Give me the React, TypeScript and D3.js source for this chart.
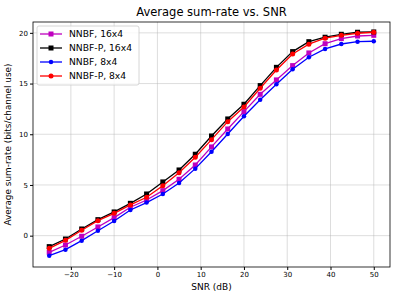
import React, { useEffect, useRef } from "react";
import * as d3 from "d3";

const snr = [-25, -21.25, -17.5, -13.75, -10, -6.25, -2.5, 1.25, 5, 8.75, 12.5, 16.25, 20, 23.75, 27.5, 31.25, 35, 38.75, 42.5, 46.25, 50];

const nnbf16 = [-1.64, -0.92, -0.06, 0.86, 1.78, 2.8, 3.52, 4.44, 5.56, 6.97, 8.75, 10.52, 12.23, 13.94, 15.36, 16.77, 18.02, 18.93, 19.43, 19.69, 19.76];
const nnbfp16 = [-1.08, -0.33, 0.66, 1.58, 2.34, 3.19, 4.11, 5.3, 6.48, 8.03, 9.83, 11.51, 12.96, 14.8, 16.6, 18.15, 19.13, 19.57, 19.86, 20.06, 20.09];
const nnbf8 = [-1.97, -1.38, -0.49, 0.49, 1.45, 2.53, 3.26, 4.11, 5.2, 6.61, 8.28, 10.03, 11.78, 13.41, 14.93, 16.41, 17.59, 18.41, 18.9, 19.13, 19.17];
const nnbfp8 = [-1.25, -0.46, 0.53, 1.48, 2.2, 3.03, 3.79, 4.93, 6.21, 7.73, 9.47, 11.24, 12.69, 14.54, 16.34, 17.92, 18.88, 19.47, 19.76, 19.96, 20.06];

const xTicks = [-20, -10, 0, 10, 20, 30, 40, 50];
const yTicks = [0, 5, 10, 15, 20];

const series = [
  { label: "NNBF, 16x4", values: nnbf16, color: "#bf00bf", marker: "square", size: 5 },
  { label: "NNBF-P, 16x4", values: nnbfp16, color: "#000000", marker: "square", size: 5 },
  { label: "NNBF, 8x4", values: nnbf8, color: "#0000ff", marker: "circle", size: 4.5 },
  { label: "NNBF-P, 8x4", values: nnbfp8, color: "#ff0000", marker: "circle", size: 5 },
];

function App() {
  const svgRef = useRef<SVGSVGElement>(null);

  useEffect(() => {
    if (!svgRef.current) return;
    const width = 399;
    const height = 299;
    const left = 33;
    const right = 390;
    const top = 22;
    const bottom = 267;
    const font = "DejaVu Sans, sans-serif";

    const svg = d3.select(svgRef.current);
    svg.selectAll("*").remove();
    svg.attr("width", width).attr("height", height);

    svg.append("rect").attr("width", width).attr("height", height).attr("fill", "white");

    const x = d3.scaleLinear().domain([-28.75, 53.75]).range([left, right]);
    const y = d3.scaleLinear().domain([-3.09, 21.07]).range([bottom, top]);

    // grid
    const grid = svg.append("g").attr("stroke", "#b0b0b0").attr("stroke-opacity", 0.55).attr("stroke-width", 0.8);
    xTicks.forEach((t) => {
      grid.append("line").attr("x1", x(t)).attr("x2", x(t)).attr("y1", top).attr("y2", bottom);
    });
    yTicks.forEach((t) => {
      grid.append("line").attr("x1", left).attr("x2", right).attr("y1", y(t)).attr("y2", y(t));
    });

    // lines and markers
    const line = d3
      .line<number>()
      .x((_, i) => x(snr[i]))
      .y((d) => y(d));

    series.forEach((s) => {
      svg
        .append("path")
        .attr("d", line(s.values))
        .attr("fill", "none")
        .attr("stroke", s.color)
        .attr("stroke-width", 1.3);
      const g = svg.append("g").attr("fill", s.color);
      s.values.forEach((v, i) => {
        if (s.marker === "square") {
          g.append("rect")
            .attr("x", x(snr[i]) - s.size / 2)
            .attr("y", y(v) - s.size / 2)
            .attr("width", s.size)
            .attr("height", s.size);
        } else {
          g.append("circle").attr("cx", x(snr[i])).attr("cy", y(v)).attr("r", s.size / 2);
        }
      });
    });

    // spines
    svg
      .append("rect")
      .attr("x", left)
      .attr("y", top)
      .attr("width", right - left)
      .attr("height", bottom - top)
      .attr("fill", "none")
      .attr("stroke", "#000")
      .attr("stroke-width", 0.8);

    // ticks
    const xAxis = svg.append("g").attr("transform", `translate(0,${bottom})`);
    xAxis
      .call(
        d3
          .axisBottom(x)
          .tickValues(xTicks)
          .tickSize(3)
          .tickPadding(2)
          .tickFormat((d) => d3.format("d")(d as number).replace("-", "\u2212"))
      )
      .call((g) => g.select(".domain").remove());
    xAxis.selectAll("text").attr("font-family", font).attr("font-size", 7).attr("fill", "#000");

    const yAxis = svg.append("g").attr("transform", `translate(${left},0)`);
    yAxis
      .call(d3.axisLeft(y).tickValues(yTicks).tickSize(3).tickPadding(2).tickFormat(d3.format("d")))
      .call((g) => g.select(".domain").remove());
    yAxis.selectAll("text").attr("font-family", font).attr("font-size", 7).attr("fill", "#000");

    // labels
    svg
      .append("text")
      .attr("x", (left + right) / 2)
      .attr("y", 16)
      .attr("text-anchor", "middle")
      .attr("font-family", font)
      .attr("font-size", 11.5)
      .text("Average sum-rate vs. SNR");

    svg
      .append("text")
      .attr("x", (left + right) / 2)
      .attr("y", 290)
      .attr("text-anchor", "middle")
      .attr("font-family", font)
      .attr("font-size", 9)
      .text("SNR (dB)");

    svg
      .append("text")
      .attr("transform", `translate(11,${(top + bottom) / 2}) rotate(-90)`)
      .attr("text-anchor", "middle")
      .attr("font-family", font)
      .attr("font-size", 8.9)
      .text("Average sum-rate (bits/channel use)");

    // legend
    const lg = svg.append("g");
    lg.append("rect")
      .attr("x", 37)
      .attr("y", 26)
      .attr("width", 102)
      .attr("height", 59)
      .attr("rx", 2)
      .attr("fill", "white")
      .attr("fill-opacity", 0.8)
      .attr("stroke", "#cccccc")
      .attr("stroke-width", 0.8);
    series.forEach((s, i) => {
      const ly = 34 + i * 14;
      lg.append("line")
        .attr("x1", 40)
        .attr("x2", 62)
        .attr("y1", ly)
        .attr("y2", ly)
        .attr("stroke", s.color)
        .attr("stroke-width", 1.3);
      if (s.marker === "square") {
        lg.append("rect")
          .attr("x", 51 - s.size / 2)
          .attr("y", ly - s.size / 2)
          .attr("width", s.size)
          .attr("height", s.size)
          .attr("fill", s.color);
      } else {
        lg.append("circle").attr("cx", 51).attr("cy", ly).attr("r", s.size / 2).attr("fill", s.color);
      }
      lg.append("text")
        .attr("x", 69)
        .attr("y", ly)
        .attr("dy", "0.35em")
        .attr("font-family", font)
        .attr("font-size", 9.2)
        .text(s.label);
    });
  }, []);

  return (
    <div style={{ position: "absolute", left: 0, top: 0 }}>
      <svg ref={svgRef} style={{ display: "block" }} />
    </div>
  );
}

export default App;
